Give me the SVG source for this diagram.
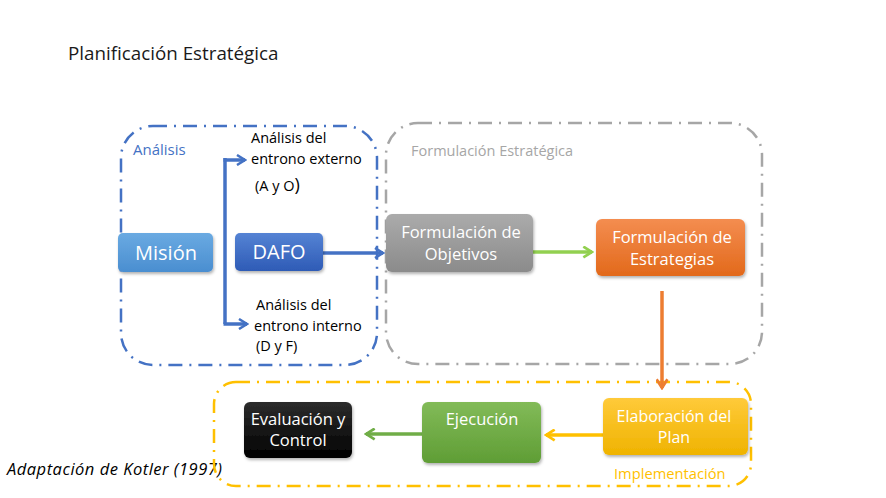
<svg xmlns="http://www.w3.org/2000/svg" width="886" height="498" viewBox="0 0 886 498">
<style>
.frame{fill:none;stroke-width:2.5;stroke-dasharray:14 7 2 7;stroke-linecap:butt}
.nt{font-family:"Open Sans","Liberation Sans",sans-serif;fill:#fff;text-anchor:middle}
.lbl{font-family:"Open Sans","Liberation Sans",sans-serif;font-size:14.5px;fill:#000}
.con{fill:none;stroke-width:3.5}
</style>
<defs>
<linearGradient id="gBlueL" x1="0" y1="0" x2="0" y2="1"><stop offset="0" stop-color="#6aaae2"/><stop offset="1" stop-color="#4a8ed0"/></linearGradient>
<linearGradient id="gBlue" x1="0" y1="0" x2="0" y2="1"><stop offset="0" stop-color="#5583d4"/><stop offset="1" stop-color="#2e5bb6"/></linearGradient>
<linearGradient id="gGray" x1="0" y1="0" x2="0" y2="1"><stop offset="0" stop-color="#ababab"/><stop offset="1" stop-color="#8b8b8b"/></linearGradient>
<linearGradient id="gOrange" x1="0" y1="0" x2="0" y2="1"><stop offset="0" stop-color="#f48d50"/><stop offset="1" stop-color="#e2691b"/></linearGradient>
<linearGradient id="gYellow" x1="0" y1="0" x2="0" y2="1"><stop offset="0" stop-color="#ffca3a"/><stop offset="1" stop-color="#efb300"/></linearGradient>
<linearGradient id="gGreen" x1="0" y1="0" x2="0" y2="1"><stop offset="0" stop-color="#82bb58"/><stop offset="1" stop-color="#5f9d35"/></linearGradient>
<linearGradient id="gBlack" x1="0" y1="0" x2="0" y2="1"><stop offset="0" stop-color="#2c2c2c"/><stop offset="1" stop-color="#000"/></linearGradient>
<filter id="sh" x="-10%" y="-10%" width="130%" height="140%"><feDropShadow dx="1" dy="2" stdDeviation="1.5" flood-color="#000" flood-opacity="0.3"/></filter>
<marker id="aBlue" viewBox="0 0 12 12" refX="10" refY="6" markerWidth="12" markerHeight="12" markerUnits="userSpaceOnUse" orient="auto"><path d="M2,1 L10,6 L2,11" fill="none" stroke="#4472C4" stroke-width="2.5"/></marker>
<marker id="aLG" viewBox="0 0 12 12" refX="10" refY="6" markerWidth="13" markerHeight="13" markerUnits="userSpaceOnUse" orient="auto"><path d="M2,1 L10,6 L2,11" fill="none" stroke="#92D050" stroke-width="2.5"/></marker>
<marker id="aOr" viewBox="0 0 12 12" refX="10" refY="6" markerWidth="13" markerHeight="13" markerUnits="userSpaceOnUse" orient="auto"><path d="M2,1 L10,6 L2,11" fill="none" stroke="#ED7D31" stroke-width="2.5"/></marker>
<marker id="aYe" viewBox="0 0 12 12" refX="10" refY="6" markerWidth="13" markerHeight="13" markerUnits="userSpaceOnUse" orient="auto"><path d="M2,1 L10,6 L2,11" fill="none" stroke="#FFC000" stroke-width="2.5"/></marker>
<marker id="aGr" viewBox="0 0 12 12" refX="10" refY="6" markerWidth="13" markerHeight="13" markerUnits="userSpaceOnUse" orient="auto"><path d="M2,1 L10,6 L2,11" fill="none" stroke="#70AD47" stroke-width="2.5"/></marker>
</defs>
<rect width="886" height="498" fill="#fff"/>
<text x="68" y="60" font-family="Open Sans,Liberation Sans,sans-serif" font-size="18.8" fill="#1a1a1a">Planificación Estratégica</text>
<text x="7" y="475" font-family="Open Sans,Liberation Sans,sans-serif" font-size="16.5" letter-spacing="0.5" font-style="italic" fill="#000">Adaptación de Kotler (1997)</text>

<g id="frames">
<rect id="frame-analisis" class="frame" x="121" y="126" width="256" height="239" rx="32" stroke="#4472C4"/>
<rect id="frame-formulacion" class="frame" x="386" y="123" width="376" height="241" rx="32" stroke="#A6A6A6"/>
<rect id="frame-implementacion" class="frame" x="214" y="382" width="537" height="104" rx="22" stroke="#FFC000"/>
<text x="133" y="155" font-family="Open Sans,Liberation Sans,sans-serif" font-size="15" fill="#4472C4">Análisis</text>
<text x="411" y="156" font-family="Open Sans,Liberation Sans,sans-serif" font-size="14.5" fill="#A6A6A6">Formulación Estratégica</text>
<text x="614" y="479" font-family="Open Sans,Liberation Sans,sans-serif" font-size="14.7" fill="#FFC000">Implementación</text>
</g>

<g id="connectors">
<path class="con" d="M225,158 L225,324" stroke="#4472C4"/>
<path class="con" d="M223.5,160 L245,160" stroke="#4472C4" marker-end="url(#aBlue)"/>
<path class="con" d="M223.5,324 L247,324" stroke="#4472C4" marker-end="url(#aBlue)"/>
<path class="con" d="M323,253 L383,253" stroke="#4472C4" marker-end="url(#aBlue)"/>
<path class="con" d="M533,252 L592,252" stroke="#92D050" marker-end="url(#aLG)"/>
<path class="con" d="M662,291 L662,388" stroke="#ED7D31" marker-end="url(#aOr)"/>
<path class="con" d="M603,435 L546,435" stroke="#FFC000" marker-end="url(#aYe)"/>
<path class="con" d="M422,434 L366,434" stroke="#70AD47" marker-end="url(#aGr)"/>
</g>

<g id="node-mision">
<rect x="118" y="233" width="95" height="39" rx="5" fill="url(#gBlueL)" filter="url(#sh)"/>
<text class="nt" x="166" y="260" font-size="20">Misión</text>
</g>
<g id="node-dafo">
<rect x="235" y="233" width="88" height="38" rx="5" fill="url(#gBlue)" filter="url(#sh)"/>
<text class="nt" x="279" y="259" font-size="20">DAFO</text>
</g>
<g id="node-externo">
<text class="lbl" x="251" y="143">Análisis del</text>
<text class="lbl" x="251" y="164">entrono externo</text>
<text class="lbl" x="255" y="191">(A y O<tspan font-size="18">)</tspan></text>
</g>
<g id="node-interno">
<text class="lbl" x="256" y="310">Análisis del</text>
<text class="lbl" x="254" y="331">entrono interno</text>
<text class="lbl" x="256" y="351">(D y F)</text>
</g>
<g id="node-objetivos">
<rect x="386" y="214" width="147" height="58" rx="6" fill="url(#gGray)" filter="url(#sh)"/>
<text class="nt" x="461" y="238" font-size="16.5">Formulación de</text>
<text class="nt" x="461" y="260" font-size="16.5">Objetivos</text>
</g>
<g id="node-estrategias">
<rect x="596" y="219" width="149" height="57" rx="6" fill="url(#gOrange)" filter="url(#sh)"/>
<text class="nt" x="672" y="243" font-size="16.5">Formulación de</text>
<text class="nt" x="672" y="265" font-size="16.5">Estrategias</text>
</g>
<g id="node-plan">
<rect x="603" y="398" width="145" height="57" rx="6" fill="url(#gYellow)" filter="url(#sh)"/>
<text class="nt" x="674" y="422" font-size="16">Elaboración del</text>
<text class="nt" x="674" y="443" font-size="16">Plan</text>
</g>
<g id="node-ejecucion">
<rect x="422" y="402" width="119" height="61" rx="6" fill="url(#gGreen)" filter="url(#sh)"/>
<text class="nt" x="482" y="425" font-size="16.5">Ejecución</text>
</g>
<g id="node-evaluacion">
<rect x="244" y="402" width="108" height="56" rx="6" fill="url(#gBlack)" filter="url(#sh)"/>
<text class="nt" x="298" y="425" font-size="16.5">Evaluación y</text>
<text class="nt" x="298" y="446" font-size="16.5">Control</text>
</g>
</svg>
